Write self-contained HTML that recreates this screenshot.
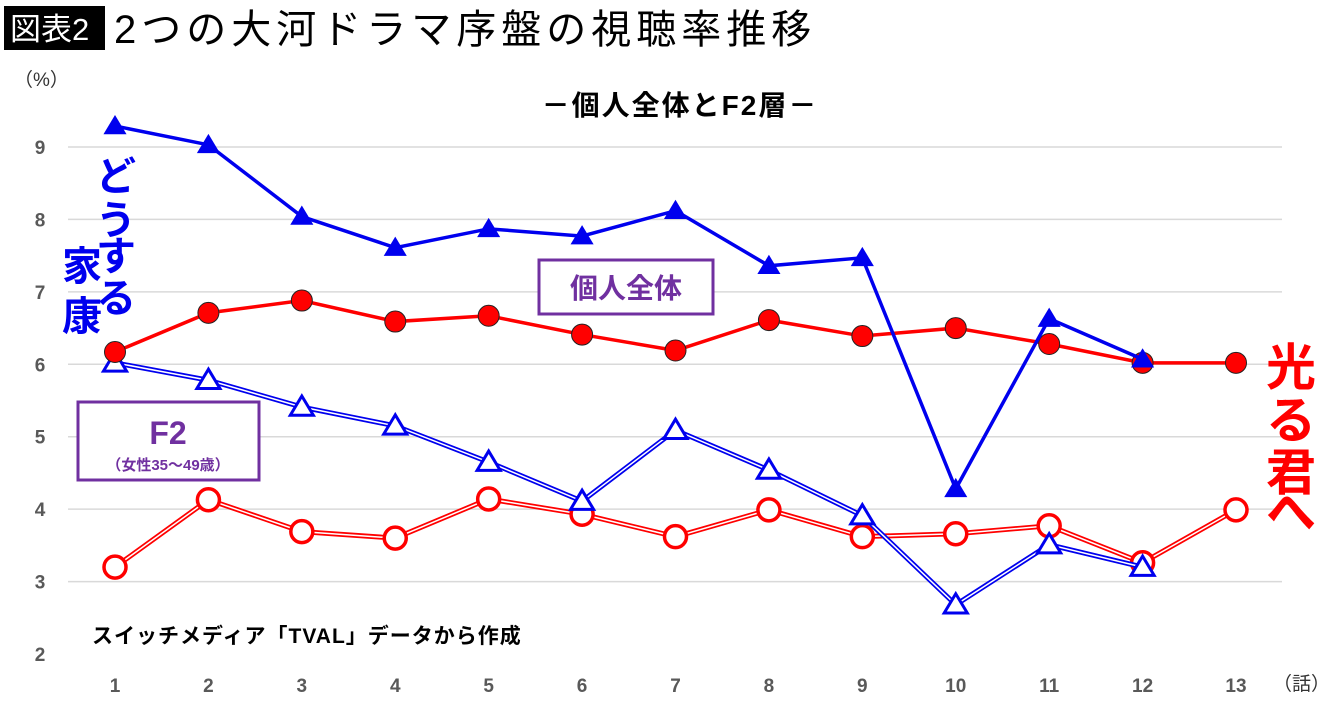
<!DOCTYPE html>
<html><head><meta charset="utf-8"><style>
body{margin:0;background:#fff;}
svg text{font-family:"Liberation Sans","Noto Sans CJK JP",sans-serif;}
</style></head><body>
<svg id="c" width="1340" height="707" viewBox="0 0 1340 707">
<rect x="4" y="6" width="101" height="44" fill="#000"/>
<text x="10" y="40" font-size="31" fill="#fff">図表2</text>
<text x="114" y="43" font-size="40" letter-spacing="5" fill="#000">2つの大河ドラマ序盤の視聴率推移</text>
<text x="14" y="86" font-size="19" fill="#333">（%）</text>
<text x="680" y="115" font-size="28" letter-spacing="2" font-weight="bold" text-anchor="middle">－個人全体とF2層－</text>
<text x="1330" y="690" font-size="19" fill="#333" text-anchor="end">（話）</text>
<g id="grid"></g><g id="series"></g>
<g font-weight="bold" fill="#0000ee" font-size="40">
<text x="96" y="190">ど</text>
<text x="96" y="234">う</text>
<text x="96" y="270">す</text>
<text x="96" y="312">る</text>
<text x="62" y="280">家</text>
<text x="62" y="330">康</text>
</g>
<g font-weight="bold" fill="#ff0000" font-size="50">
<text x="1266" y="385">光</text>
<text x="1266" y="438">る</text>
<text x="1266" y="490">君</text>
<text x="1266" y="530">へ</text>
</g>
<rect x="539" y="260" width="174" height="54" fill="#fff" stroke="#7030a0" stroke-width="3"/>
<text x="626" y="298" font-size="28" font-weight="bold" fill="#7030a0" text-anchor="middle">個人全体</text>
<rect x="78" y="402" width="181" height="78" fill="#fff" stroke="#7030a0" stroke-width="3"/>
<text x="168" y="444" font-size="32" font-weight="bold" fill="#7030a0" text-anchor="middle">F2</text>
<text x="168" y="470" font-size="15" font-weight="bold" fill="#7030a0" text-anchor="middle">（女性35～49歳）</text>
<text x="92" y="643" font-size="21" letter-spacing="1" font-weight="bold">スイッチメディア「TVAL」データから作成</text>
</svg>
<script>
const episodes=[1,2,3,4,5,6,7,8,9,10,11,12,13];
const yTicks=[2,3,4,5,6,7,8,9];
const ieyasuAll=[9.29,9.03,8.04,7.61,7.87,7.77,8.12,7.36,7.47,4.28,6.63,6.07];
const hikaruAll=[6.17,6.71,6.88,6.59,6.67,6.41,6.19,6.61,6.39,6.5,6.28,6.02,6.02];
const ieyasuF2=[6.02,5.78,5.41,5.15,4.65,4.11,5.09,4.54,3.91,2.68,3.51,3.2];
const hikaruF2=[3.2,4.13,3.69,3.6,4.14,3.93,3.62,3.99,3.62,3.66,3.77,3.26,3.99];
const X=e=>115+(e-1)*(1236-115)/12;
const Y=v=>654-(v-2)*(654-147)/7;
const NS='http://www.w3.org/2000/svg';
function mk(t,a,p){const el=document.createElementNS(NS,t);for(const k in a)el.setAttribute(k,a[k]);p.appendChild(el);return el;}
const grid=document.getElementById('grid'),ser=document.getElementById('series');
yTicks.forEach(v=>{
 if(v>2){const l=mk('line',{x1:68,x2:1282,y1:Y(v),y2:Y(v),stroke:'#d9d9d9','stroke-width':1.5},grid);
 
 }
 const t=mk('text',{x:40,y:Y(v)+7,'font-size':19,'font-weight':'bold',fill:'#595959','text-anchor':'middle'},grid);t.textContent=v;
 
 
});
episodes.forEach(e=>{
 const t=mk('text',{x:X(e),y:692,'font-size':19,'font-weight':'bold',fill:'#595959','text-anchor':'middle'},grid);t.textContent=e;
 
 
});
function pts(d){return d.map((v,i)=>X(episodes[i])+','+Y(v)).join(' ');}
function tri(x,y,s){return `${x},${y-s} ${x-s*1.05},${y+s*0.75} ${x+s*1.05},${y+s*0.75}`;}
function draw(d,name,color,dbl,shape){
 const g=mk('g',{},ser);
 
 
 if(dbl){mk('polyline',{points:pts(d),fill:'none',stroke:color,'stroke-width':5},g);
  mk('polyline',{points:pts(d),fill:'none',stroke:'#fff','stroke-width':1.5},g);}
 else mk('polyline',{points:pts(d),fill:'none',stroke:color,'stroke-width':3.5},g);
 d.forEach((v,i)=>{
  const x=X(episodes[i]),y=Y(v);let m;
  if(shape==='tri')m=mk('polygon',{points:tri(x,y,11),fill:dbl?'#fff':color,stroke:dbl?color:'none','stroke-width':3},g);
  else m=mk('circle',{cx:x,cy:y,r:dbl?11:10.5,fill:dbl?'#fff':color,stroke:dbl?color:'#222','stroke-width':dbl?3.5:1},g);
  
  
 });
}
draw(hikaruF2,'series-hikaru-f2','#ff0000',true,'circle');
draw(ieyasuF2,'series-ieyasu-f2','#0000ee',true,'tri');
draw(hikaruAll,'series-hikaru-all','#ff0000',false,'circle');
draw(ieyasuAll,'series-ieyasu-all','#0000ee',false,'tri');
</script>
</body></html>
